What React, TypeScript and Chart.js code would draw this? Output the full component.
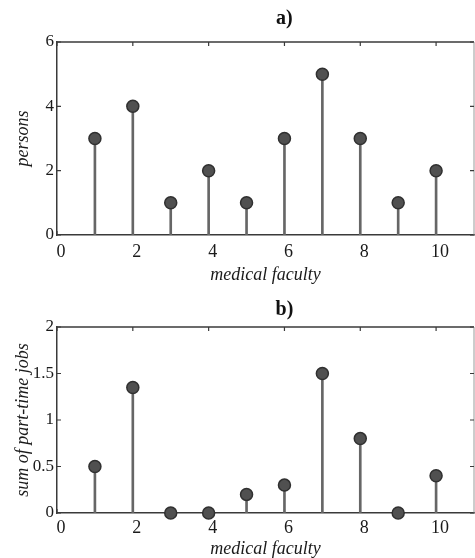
import React, { useEffect, useRef } from "react";
import { Chart, registerables } from "chart.js";

Chart.register(...registerables);

const FACULTY = [1, 2, 3, 4, 5, 6, 7, 8, 9, 10];
const PERSONS = [3, 4, 1, 2, 1, 3, 5, 3, 1, 2];
const PART_TIME = [0.5, 1.35, 0, 0, 0.2, 0.3, 1.5, 0.8, 0, 0.4];
const X_TICKS = [0, 2, 4, 6, 8, 10];
const Y_TICKS_A = [0, 2, 4, 6];
const Y_TICKS_B = [0, 0.5, 1, 1.5, 2];
const X_MIN = 0;
const X_MAX = 11;
const TITLE_CENTER_X = 6;

const FONT = '"Liberation Serif", "Times New Roman", serif';
const AXIS_COLOR = "#3a3a3a";
const STEM_COLOR = "#666666";
const MARKER_FILL = "#505050";
const MARKER_EDGE = "#303030";

type Panel = {
  title: string;
  yTitle: string;
  values: number[];
  yMax: number;
  yTicks: number[];
  top: number;
  height: number;
  padTop: number;
  xAxisHeight: number;
  tickPad: number;
  titleGap: number;
  xTitlePadBottom: number;
};

const PANELS: Panel[] = [
  {
    title: "a)",
    yTitle: "persons",
    values: PERSONS,
    yMax: 6,
    yTicks: Y_TICKS_A,
    top: 0,
    height: 290,
    padTop: 42,
    xAxisHeight: 55,
    tickPad: 6,
    titleGap: 23,
    xTitlePadBottom: 4,
  },
  {
    title: "b)",
    yTitle: "sum of part-time jobs",
    values: PART_TIME,
    yMax: 2,
    yTicks: Y_TICKS_B,
    top: 290,
    height: 268,
    padTop: 37,
    xAxisHeight: 45,
    tickPad: 4,
    titleGap: 17,
    xTitlePadBottom: -2,
  },
];

const framePlugin = {
  id: "stemFrame",
  beforeDatasetsDraw(chart: any) {
    const { ctx, chartArea } = chart;
    const xs = chart.scales.x;
    const ys = chart.scales.y;
    const { left, right, top, bottom } = chartArea;
    ctx.save();
    ctx.strokeStyle = AXIS_COLOR;
    ctx.lineWidth = 1.5;
    ctx.beginPath();
    ctx.moveTo(left, top);
    ctx.lineTo(right, top);
    ctx.stroke();
    ctx.strokeStyle = "#9a9a9a";
    ctx.lineWidth = 1;
    ctx.beginPath();
    ctx.moveTo(right, top);
    ctx.lineTo(right, bottom);
    ctx.stroke();
    ctx.strokeStyle = AXIS_COLOR;
    ctx.lineWidth = 1.2;
    const tl = 4;
    xs.ticks.forEach((t: any) => {
      const px = xs.getPixelForValue(t.value);
      ctx.beginPath();
      ctx.moveTo(px, top);
      ctx.lineTo(px, top + tl);
      ctx.moveTo(px, bottom);
      ctx.lineTo(px, bottom - tl);
      ctx.stroke();
    });
    ys.ticks.forEach((t: any) => {
      const py = ys.getPixelForValue(t.value);
      ctx.beginPath();
      ctx.moveTo(left, py);
      ctx.lineTo(left + tl, py);
      ctx.moveTo(right, py);
      ctx.lineTo(right - tl, py);
      ctx.stroke();
    });
    ctx.restore();
  },
  afterDraw(chart: any, _args: any, opts: any) {
    const { ctx, chartArea } = chart;
    const xs = chart.scales.x;
    ctx.save();
    ctx.fillStyle = "#111";
    ctx.font = `bold 20px ${FONT}`;
    ctx.textAlign = "center";
    ctx.textBaseline = "middle";
    ctx.fillText(opts.text, xs.getPixelForValue(TITLE_CENTER_X), chartArea.top - opts.gap);
    ctx.restore();
  },
};

function StemPanel({ panel }: { panel: Panel }) {
  const ref = useRef<HTMLCanvasElement | null>(null);
  useEffect(() => {
    if (!ref.current) return;
    const points = FACULTY.map((x, i) => ({ x, y: panel.values[i] }));
    const chart = new Chart(ref.current, {
      type: "scatter",
      data: {
        datasets: [
          {
            type: "scatter",
            data: points,
            pointRadius: 6,
            pointBackgroundColor: MARKER_FILL,
            pointBorderColor: MARKER_EDGE,
            pointBorderWidth: 1.5,
            clip: false,
            order: 0,
          } as any,
          {
            type: "bar",
            data: points,
            backgroundColor: STEM_COLOR,
            barThickness: 2,
            borderWidth: 0,
            order: 1,
          } as any,
        ],
      },
      options: {
        animation: false,
        responsive: false,
        devicePixelRatio: 1,
        layout: { autoPadding: false, padding: { top: panel.padTop, right: 1, left: 0, bottom: 0 } },
        plugins: {
          legend: { display: false },
          tooltip: { enabled: false },
          title: { display: false },
          stemFrame: { text: panel.title, gap: panel.titleGap },
        } as any,
        scales: {
          x: {
            type: "linear",
            min: X_MIN,
            max: X_MAX,
            offset: false,
            grid: { display: false, drawTicks: false },
            border: { display: true, color: AXIS_COLOR, width: 1.5 },
            afterBuildTicks: (s: any) => {
              s.ticks = X_TICKS.map((v) => ({ value: v }));
            },
            afterFit: (s: any) => {
              s.height = panel.xAxisHeight;
              s.paddingLeft = 0;
              s.paddingRight = 0;
            },
            ticks: {
              padding: panel.tickPad,
              labelOffset: 4,
              color: "#1a1a1a",
              font: { family: FONT, size: 18 },
              maxRotation: 0,
              autoSkip: false,
            },
            title: {
              display: true,
              text: "medical faculty",
              color: "#1a1a1a",
              font: { family: FONT, size: 18, style: "italic" },
              padding: { top: 0, bottom: panel.xTitlePadBottom },
            },
          },
          y: {
            type: "linear",
            min: 0,
            max: panel.yMax,
            grid: { display: false, drawTicks: false },
            border: { display: true, color: AXIS_COLOR, width: 1.5 },
            afterBuildTicks: (s: any) => {
              s.ticks = panel.yTicks.map((v) => ({ value: v }));
            },
            afterFit: (s: any) => {
              s.width = 57;
            },
            ticks: {
              padding: 3,
              color: "#1a1a1a",
              font: { family: FONT, size: 17 },
              autoSkip: false,
              callback: (v: any) => String(v),
            },
            title: {
              display: true,
              text: panel.yTitle,
              color: "#1a1a1a",
              font: { family: FONT, size: 18, style: "italic" },
              padding: { top: 12, bottom: 0 },
            },
          },
        },
      },
      plugins: [framePlugin as any],
    });
    return () => chart.destroy();
  }, [panel]);
  return (
    <canvas
      ref={ref}
      width={475}
      height={panel.height}
      style={{ position: "absolute", left: 0, top: panel.top, width: 475, height: panel.height }}
    />
  );
}

export default function App() {
  return (
    <div style={{ position: "absolute", left: 0, top: 0, width: 475, height: 558, background: "#fff", overflow: "hidden" }}>
      {PANELS.map((p) => (
        <StemPanel key={p.title} panel={p} />
      ))}
    </div>
  );
}
